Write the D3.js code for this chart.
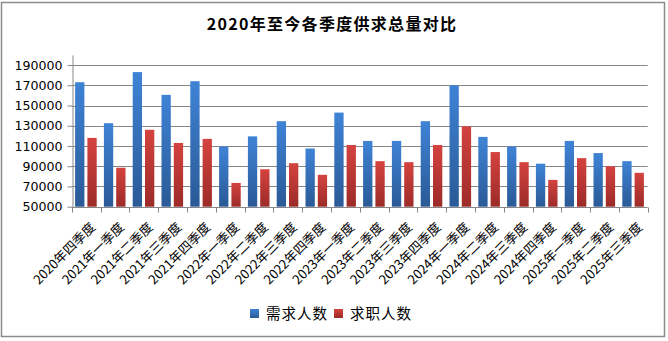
<!DOCTYPE html>
<html><head><meta charset="utf-8">
<script src="https://cdn.jsdelivr.net/npm/d3@7"></script>
<style>body{margin:0;background:#fff}svg{display:block}</style>
</head><body><svg id="c" width="668" height="341"></svg>
<script>
const categories = ["2020年四季度","2021年一季度","2021年二季度","2021年三季度","2021年四季度","2022年一季度","2022年二季度","2022年三季度","2022年四季度","2023年一季度","2023年二季度","2023年三季度","2023年四季度","2024年一季度","2024年二季度","2024年三季度","2024年四季度","2025年一季度","2025年二季度","2025年三季度"];
const seriesNames = ["需求人数","求职人数"];
const demand = [173000,132500,183000,160500,174000,109500,119500,134500,107500,143000,115000,115000,134500,170000,119000,109500,92500,115000,103000,95000];
const supply = [118000,88500,126000,113000,117000,73500,87000,93000,81500,111000,95000,94000,111000,129500,104000,94000,76500,98000,90000,83500];
const yTicks = [50000,70000,90000,110000,130000,150000,170000,190000];
const title = "2020年至今各季度供求总量对比";

const svg = d3.select("#c");
const defs = svg.append("defs");
const grads = [["gB","#3f83d6","#2a5a96"],["gR","#d4433f","#9c2b28"]];
grads.forEach(([id,a,b])=>{
  const g = defs.append("linearGradient").attr("id",id).attr("x1",0).attr("y1",0).attr("x2",0).attr("y2",1);
  g.append("stop").attr("offset","0%").attr("stop-color",a);
  g.append("stop").attr("offset","100%").attr("stop-color",b);
});

// outer border
svg.append("rect").attr("x",1.5).attr("y",2.5).attr("width",663).attr("height",334)
  .attr("fill","#fff").attr("stroke","#8c8c8c").attr("stroke-width",1.5);

const L = 71.7, R = 647.7, T = 54.9, B = 206.7;
const x = d3.scaleBand().domain(categories).range([L,R]).padding(0);
const xs = d3.scaleBand().domain(seriesNames).range([3.4, 25]).paddingInner(0.244);
const y = d3.scaleLinear().domain([50000,200000]).range([B,T]);

svg.append("text").attr("x",332).attr("y",30).attr("text-anchor","middle")
  .attr("font-family","'Noto Sans CJK SC', sans-serif").attr("font-weight","bold")
  .attr("font-size",16).attr("letter-spacing","1.3px").attr("fill","#000").text(title);

// gridlines
svg.append("g").selectAll("line").data(yTicks.filter(d=>d>50000)).join("line")
  .attr("x1",L).attr("x2",R).attr("y1",d=>Math.round(y(d))+0.5).attr("y2",d=>Math.round(y(d))+0.5)
  .attr("stroke","#868686").attr("stroke-width",1);

// y axis
const ya = svg.append("g").attr("transform",`translate(${Math.round(L)+0.5},0)`)
  .call(d3.axisLeft(y).tickValues(yTicks).tickSize(5).tickSizeOuter(0).tickFormat(d3.format("d")));
ya.select(".domain").attr("stroke","#868686");
ya.selectAll(".tick line").attr("stroke","#868686");
ya.selectAll(".tick text").attr("font-family","'DejaVu Sans', sans-serif").attr("font-size",12.6).attr("fill","#000").attr("x",-10);

// bars
const data = categories.map((c,i)=>({c, v:[demand[i],supply[i]]}));
const grp = svg.append("g").selectAll("g").data(data).join("g").attr("transform",d=>`translate(${x(d.c)},0)`);
grp.selectAll("rect").data(d=>d.v.map((v,j)=>({s:seriesNames[j],v,j}))).join("rect")
  .attr("x",d=>xs(d.s)).attr("width",xs.bandwidth())
  .attr("y",d=>y(d.v)).attr("height",d=>B-y(d.v))
  .attr("fill",d=>d.j===0?"url(#gB)":"url(#gR)");

// x axis
const xa = svg.append("g").attr("transform",`translate(0,${Math.round(B)+0.5})`);
xa.append("line").attr("x1",L).attr("x2",R).attr("stroke","#868686");
const bounds = categories.map(c=>x(c)).concat([R]);
xa.selectAll("line.t").data(bounds).join("line").attr("class","t")
  .attr("x1",d=>Math.round(d)+0.5).attr("x2",d=>Math.round(d)+0.5).attr("y1",0).attr("y2",5).attr("stroke","#868686");

svg.append("g").selectAll("text").data(categories).join("text")
  .attr("transform",d=>`translate(${x(d)+x.bandwidth()/2+10},228) rotate(-45)`)
  .attr("text-anchor","end").attr("font-family","'Noto Sans CJK SC', sans-serif")
  .attr("font-size",13).attr("fill","#000").text(d=>d);

// legend
const lg = svg.append("g");
const lx = [250, 334];
seriesNames.forEach((n,i)=>{
  lg.append("rect").attr("x",lx[i]).attr("y",309).attr("width",9).attr("height",9).attr("fill",i===0?"url(#gB)":"url(#gR)");
  lg.append("text").attr("x",lx[i]+16).attr("y",319).attr("font-family","'Noto Sans CJK SC', sans-serif")
    .attr("font-size",14.5).attr("letter-spacing","1px").attr("fill","#000").text(n);
});
</script></body></html>
